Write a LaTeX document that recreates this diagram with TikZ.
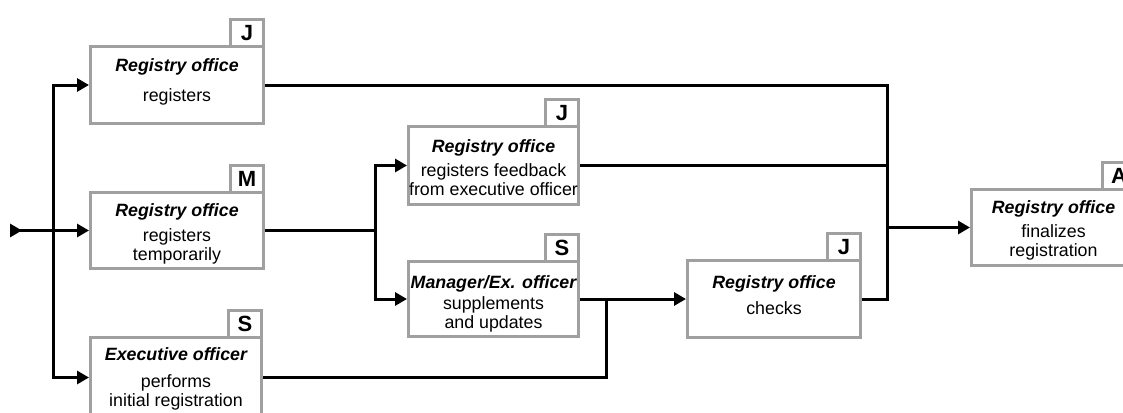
\documentclass[tikz,border=0pt]{standalone}
\usepackage{fontspec}
\setmainfont{Liberation Sans}
\usetikzlibrary{arrows.meta,calc}
\definecolor{boxgray}{HTML}{A0A0A0}
\tikzset{
  box/.style={draw=boxgray, line width=3pt, fill=white, inner sep=0pt},
  tagbox/.style={draw=boxgray, line width=3pt, fill=white, minimum width=33pt,
    minimum height=27pt, inner sep=0pt, outer sep=0pt, anchor=south east,
    font=\fontsize{22}{22}\selectfont\bfseries},
  ttl/.style={anchor=base, inner sep=0pt, font=\fontsize{17.8}{19}\selectfont\bfseries\itshape},
  body/.style={anchor=base, inner sep=0pt, align=center, font=\fontsize{17.8}{19}\selectfont},
  conn/.style={line width=3pt, draw=black},
  arr/.style={conn, -{Triangle[length=12pt,width=13pt]}},
  startarr/.style={conn, {Triangle[reversed,length=12pt,width=13pt]}-{Triangle[length=12pt,width=13pt]}},
}
\begin{document}
\begin{tikzpicture}[x=1pt,y=-1pt]
\useasboundingbox (0,0) rectangle (1123,412);
\begin{scope}
\clip (0,0) rectangle (1123,412);
\fill[white] (0,0) rectangle (1123,412);

% boxes
\node[box, minimum width=173pt, minimum height=77pt] (b1) at (177,85) {};
\node[box, minimum width=173pt, minimum height=76pt] (b2) at (177,230.5) {};
\node[box, minimum width=171pt, minimum height=80pt] (b3) at (176,377.5) {};
\node[box, minimum width=170pt, minimum height=78pt] (b4) at (493.5,165.5) {};
\node[box, minimum width=170pt, minimum height=75pt] (b5) at (493.5,299) {};
\node[box, minimum width=173pt, minimum height=77pt] (b6) at (774,299) {};
\node[box, minimum width=164pt, minimum height=76pt] (b7) at (1053.5,227.5) {};

% tags
\node[tagbox] (g1) at ([shift={(-1.5pt,-1.5pt)}]b1.north east) {J};
\node[tagbox] (g2) at ([shift={(-1.5pt,-1.5pt)}]b2.north east) {M};
\node[tagbox] (g3) at ([shift={(-1.5pt,-1.5pt)}]b3.north east) {S};
\node[tagbox] (g4) at ([shift={(-1.5pt,-1.5pt)}]b4.north east) {J};
\node[tagbox] (g5) at ([shift={(-1.5pt,-1.5pt)}]b5.north east) {S};
\node[tagbox] (g6) at ([shift={(-1.5pt,-1.5pt)}]b6.north east) {J};
\node[tagbox] (g7) at ([shift={(-1.5pt,-1.5pt)}]b7.north east) {A};

% texts (body nodes: base = baseline of last line)
\node[ttl] (t1) at (177,71) {Registry office};
\node[body] (d1) at (177,101.7) {registers};
\node[ttl] (t2) at (177,216.7) {Registry office};
\node[body] (d2) at (177,260.5) {registers\\temporarily};
\node[ttl] (t3) at (176,360) {Executive officer};
\node[body] (d3) at (176,406.5) {performs\\initial registration};
\node[ttl] (t4) at (493.5,152.7) {Registry office};
\node[body] (d4) at (493.5,195) {registers feedback\\from executive officer};
\node[ttl] (t5) at (493.5,288.3) {Manager/Ex. officer};
\node[body] (d5) at (493.5,328) {supplements\\and updates};
\node[ttl] (t6) at (774,288) {Registry office};
\node[body] (d6) at (774,314) {checks};
\node[ttl] (t7) at (1053.5,213.3) {Registry office};
\node[body] (d7) at (1053.5,256.5) {finalizes\\registration};

% junctions
\coordinate (s) at (10,230.5);
\coordinate (jL) at (53,230.5);
\coordinate (j1) at (375,230.5);
\coordinate (j2) at (606,299);
\coordinate (j3) at (887,227.5);

% connectors
\draw[startarr] (s) -- (b2.west);
\draw[arr] (jL) |- (b1.west);
\draw[arr] (jL) |- (b3.west);
\draw[conn] (b2.east) -- (j1);
\draw[arr] (j1) |- (b4.west);
\draw[arr] (j1) |- (b5.west);
\draw[conn] (b3.east) -| (j2);
\draw[arr] (b5.east) -- (b6.west);
\draw[conn] (b1.east) -| (j3);
\draw[conn] (b6.east) -| (j3);
\draw[conn] (b4.east) -- (b4.east -| j3);
\draw[arr] (j3) -- (b7.west);
\end{scope}
\end{tikzpicture}
\end{document}
